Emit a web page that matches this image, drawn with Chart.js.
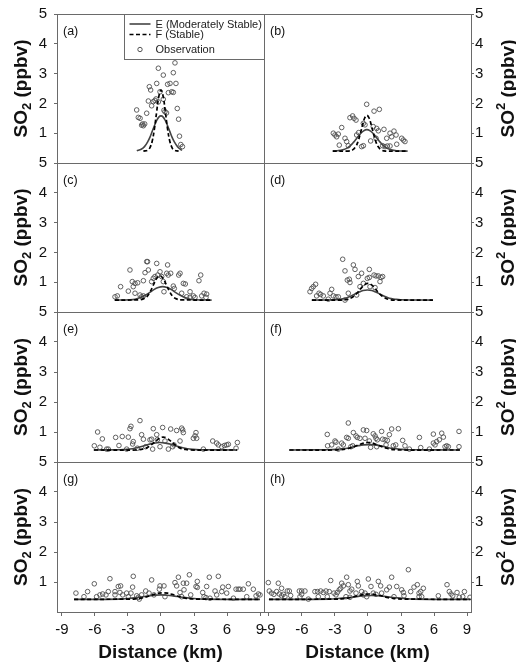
<!DOCTYPE html>
<html><head><meta charset="utf-8">
<script src="https://cdn.jsdelivr.net/npm/chart.js@4.4.0/dist/chart.umd.min.js"></script>
<style>
html,body{margin:0;padding:0;background:#fff;}
body{width:516px;height:667px;position:relative;overflow:hidden;}
canvas{position:absolute;}
</style>
</head><body>
<script>
// ---------------- data ----------------
const xTicks = [-9, -6, -3, 0, 3, 6, 9];
const yTicks = [0, 1, 2, 3, 4, 5];
const panelLabels = ['(a)', '(b)', '(c)', '(d)', '(e)', '(f)', '(g)', '(h)'];
const legendLabels = ['E (Moderately Stable)', 'F (Stable)', 'Observation'];
const xTitle = 'Distance (km)';

const obs_a = [[-2.21,1.78],[-2.06,1.53],[-1.9,1.50],[-1.76,1.27],[-1.67,1.31],[-1.6,1.25],[-1.48,1.31],[-1.3,1.67],[-1.15,2.08],[-1.06,2.56],[-0.94,2.45],[-0.85,1.92],[-0.7,2.06],[-0.55,2.10],[-0.45,2.15],[-0.39,2.67],[-0.24,3.18],[-0.24,2.05],[-0.09,2.39],[0.21,2.95],[0.21,2.14],[0.27,1.77],[0.36,1.72],[0.5,1.68],[0.6,2.64],[0.67,2.36],[0.82,2.67],[0.97,2.39],[1.12,3.03],[1.27,3.36],[1.36,2.67],[1.12,2.37],[1.48,1.83],[1.6,1.47],[1.68,0.9],[1.8,0.62],[1.95,0.55]];
const stableE_a = [[-2.2,0.41],[-1.8,0.46],[-1.5,0.55],[-1.2,0.72],[-1.0,0.87],[-0.8,1.06],[-0.6,1.25],[-0.4,1.42],[-0.2,1.54],[0,1.58],[0.2,1.54],[0.4,1.42],[0.6,1.25],[0.8,1.06],[1.0,0.87],[1.2,0.72],[1.5,0.55],[1.9,0.42]];
const stableF_a = [[-1.6,0.40],[-1.2,0.43],[-1.0,0.52],[-0.8,0.73],[-0.6,1.14],[-0.4,1.70],[-0.2,2.23],[0,2.45],[0.2,2.23],[0.4,1.70],[0.6,1.14],[0.8,0.73],[1.0,0.52],[1.2,0.43],[1.6,0.40]];

const obs_b = [[-3.15,1.0],[-3.0,0.94],[-2.85,0.88],[-2.7,0.97],[-2.61,0.6],[-2.39,1.19],[-2.09,0.83],[-1.94,0.72],[-1.79,0.58],[-1.64,1.52],[-1.4,1.58],[-1.27,1.5],[-1.09,1.44],[-1.03,0.94],[-0.85,1.02],[-0.58,0.55],[-0.42,0.58],[-0.42,1.33],[-0.27,1.28],[-0.12,1.97],[0.24,0.74],[0.48,1.22],[0.55,1.74],[0.73,0.83],[0.79,1.16],[0.94,1.08],[1.03,1.80],[1.33,0.58],[1.45,1.13],[1.55,0.55],[1.7,0.83],[1.76,0.57],[2.0,1.0],[2.0,0.57],[2.15,0.88],[2.36,1.07],[2.55,0.94],[2.61,0.63],[3.06,0.83],[3.21,0.77],[3.36,0.72]];
const stableE_b = [[-3.2,0.40],[-2.8,0.41],[-2.3,0.44],[-1.9,0.50],[-1.6,0.58],[-1.3,0.70],[-1.0,0.84],[-0.7,0.98],[-0.4,1.08],[-0.1,1.12],[0.2,1.08],[0.5,0.98],[0.8,0.84],[1.1,0.70],[1.4,0.58],[1.7,0.50],[2.1,0.44],[2.6,0.41],[3.6,0.40]];
const stableF_b = [[-3.2,0.40],[-1.8,0.40],[-1.4,0.44],[-1.1,0.56],[-0.9,0.73],[-0.7,0.98],[-0.5,1.27],[-0.3,1.51],[-0.1,1.60],[0.1,1.51],[0.3,1.27],[0.5,0.98],[0.7,0.73],[0.9,0.56],[1.2,0.44],[1.6,0.40],[3.6,0.40]];

const obs_c = [[-4.18,0.51],[-3.97,0.54],[-3.67,0.85],[-2.97,0.70],[-2.82,1.41],[-2.61,1.02],[-2.52,0.85],[-2.36,0.96],[-2.36,0.63],[-2.12,0.98],[-1.91,0.57],[-1.76,0.51],[-1.6,0.54],[-1.6,1.05],[-1.45,1.32],[-1.3,1.69],[-1.22,1.69],[-1.15,1.41],[-0.85,1.02],[-0.7,1.13],[-0.55,1.19],[-0.39,1.63],[-0.3,1.24],[-0.09,1.35],[0.06,1.19],[0.21,1.02],[0.27,0.68],[0.52,1.30],[0.6,1.58],[0.66,1.24],[0.88,1.30],[1.12,0.87],[1.21,0.79],[1.61,1.24],[1.73,1.30],[1.88,0.63],[2.03,0.96],[2.21,0.94],[2.33,0.51],[2.64,0.49],[2.64,0.68],[2.94,0.54],[3.09,0.49],[3.45,1.05],[3.61,1.24],[3.7,0.54],[3.91,0.63],[4.09,0.49],[4.15,0.60]];
const stableE_c = [[-4.2,0.40],[-2.85,0.41],[-2.35,0.43],[-1.85,0.49],[-1.45,0.56],[-1.05,0.65],[-0.65,0.75],[-0.25,0.82],[0.15,0.85],[0.55,0.82],[0.95,0.75],[1.35,0.65],[1.75,0.56],[2.15,0.49],[2.65,0.43],[3.15,0.41],[4.6,0.40]];
const stableF_c = [[-4.2,0.40],[-2.0,0.41],[-1.6,0.44],[-1.3,0.51],[-1.0,0.67],[-0.7,0.90],[-0.4,1.12],[-0.1,1.22],[0.2,1.12],[0.5,0.90],[0.8,0.67],[1.1,0.51],[1.4,0.44],[1.8,0.41],[4.6,0.40]];

const obs_d = [[-5.27,0.68],[-5.12,0.79],[-4.97,0.85],[-4.76,0.93],[-4.67,0.54],[-4.45,0.63],[-4.3,0.59],[-4.06,0.54],[-3.61,0.43],[-3.45,0.63],[-3.3,0.76],[-3.15,0.54],[-2.91,0.51],[-2.7,0.51],[-2.3,1.77],[-2.09,1.38],[-2.09,0.40],[-1.88,1.07],[-1.79,0.63],[-1.7,1.10],[-1.64,0.99],[-1.33,1.58],[-1.18,1.43],[-1.03,0.57],[-0.88,1.19],[-0.73,0.85],[-0.58,1.30],[-0.42,0.96],[-0.06,1.13],[0.12,1.16],[0.12,1.43],[0.18,0.85],[0.55,1.24],[0.64,0.82],[0.73,1.21],[0.94,1.21],[1.09,1.02],[1.18,1.16],[1.33,1.19]];
const stableE_d = [[-5.1,0.40],[-3.05,0.41],[-2.55,0.43],[-2.05,0.46],[-1.65,0.52],[-1.25,0.59],[-0.85,0.66],[-0.45,0.72],[-0.05,0.74],[0.35,0.72],[0.75,0.66],[1.15,0.59],[1.55,0.52],[1.95,0.46],[2.45,0.43],[2.95,0.41],[5.9,0.40]];
const stableF_d = [[-5.1,0.40],[-2.4,0.40],[-1.9,0.42],[-1.5,0.48],[-1.2,0.56],[-0.9,0.67],[-0.6,0.81],[-0.3,0.92],[0,0.96],[0.3,0.92],[0.6,0.81],[0.9,0.67],[1.2,0.56],[1.5,0.48],[1.9,0.42],[2.4,0.40],[5.9,0.40]];

const obs_e = [[-6.06,0.54],[-5.76,1.0],[-5.55,0.49],[-5.33,0.77],[-4.94,0.43],[-4.79,0.43],[-4.12,0.82],[-3.82,0.55],[-3.52,0.85],[-3.12,0.43],[-2.97,0.83],[-2.82,1.11],[-2.73,1.19],[-2.58,0.60],[-2.52,0.68],[-2.15,0.46],[-1.91,1.38],[-1.76,0.91],[-1.6,0.76],[-1.39,0.51],[-1.0,0.74],[-0.85,0.76],[-0.76,0.43],[-0.7,1.11],[-0.39,0.91],[-0.33,0.74],[-0.09,0.51],[0.15,1.15],[0.36,0.70],[0.67,0.43],[0.88,1.10],[1.06,0.51],[1.18,0.57],[1.42,1.05],[1.73,0.70],[1.88,1.13],[1.97,1.07],[2.03,0.98],[2.94,0.79],[3.09,0.87],[3.18,0.98],[3.24,0.79],[3.85,0.43],[4.7,0.70],[5.06,0.63],[5.21,0.57],[5.52,0.51],[5.76,0.55],[5.97,0.57],[6.12,0.59],[6.82,0.46],[6.94,0.65]];
const stableE_e = [[-6.1,0.40],[-3.7,0.41],[-3.1,0.42],[-2.6,0.44],[-2.1,0.48],[-1.6,0.53],[-1.1,0.59],[-0.6,0.63],[-0.1,0.65],[0.4,0.63],[0.9,0.59],[1.4,0.53],[1.9,0.48],[2.4,0.44],[2.9,0.42],[3.5,0.41],[6.9,0.40]];
const stableF_e = [[-6.1,0.40],[-2.2,0.40],[-1.7,0.43],[-1.3,0.47],[-1.0,0.54],[-0.7,0.63],[-0.4,0.72],[-0.1,0.80],[0.2,0.83],[0.5,0.80],[0.8,0.72],[1.1,0.63],[1.4,0.54],[1.7,0.47],[2.1,0.43],[2.6,0.40],[6.9,0.40]];

const obs_f = [[-3.7,0.92],[-3.67,0.54],[-3.3,0.57],[-3.0,0.70],[-2.91,0.66],[-2.7,0.43],[-2.39,0.63],[-2.24,0.57],[-1.94,0.82],[-1.79,0.79],[-1.79,1.30],[-1.55,0.51],[-1.39,0.54],[-1.33,0.98],[-1.09,0.87],[-0.97,0.82],[-0.73,0.79],[-0.42,1.07],[-0.27,0.79],[-0.12,1.05],[0.12,0.70],[0.24,0.49],[0.48,0.94],[0.64,0.87],[0.73,0.79],[0.79,0.51],[0.85,0.74],[1.24,1.02],[1.33,0.76],[1.55,0.74],[1.64,0.57],[1.76,0.72],[1.94,0.91],[2.15,1.10],[2.3,0.54],[2.52,0.57],[2.76,1.11],[3.15,0.72],[3.36,0.54],[3.76,0.43],[4.67,0.82],[4.79,0.48],[5.58,0.43],[5.94,0.93],[5.94,0.63],[6.09,0.57],[6.24,0.68],[6.48,0.74],[6.7,0.96],[6.85,0.83],[7.0,0.51],[7.15,0.54],[7.3,0.51],[8.27,1.02],[8.27,0.51]];
const stableE_f = [[-7.15,0.40],[-3.6,0.41],[-2.9,0.42],[-2.4,0.44],[-1.9,0.46],[-1.4,0.50],[-0.9,0.54],[-0.4,0.57],[0.1,0.58],[0.6,0.57],[1.1,0.54],[1.6,0.50],[2.1,0.46],[2.6,0.44],[3.1,0.42],[3.8,0.41],[8.35,0.40]];
const stableF_f = [[-7.15,0.40],[-3.0,0.40],[-2.5,0.41],[-2.0,0.43],[-1.6,0.47],[-1.2,0.52],[-0.8,0.58],[-0.4,0.63],[0,0.65],[0.4,0.63],[0.8,0.58],[1.2,0.52],[1.6,0.47],[2.0,0.43],[2.5,0.41],[3.0,0.40],[8.35,0.40]];

const obs_g = [[-7.73,0.63],[-7.0,0.51],[-6.67,0.68],[-6.06,0.94],[-5.85,0.51],[-5.55,0.57],[-5.3,0.60],[-5.0,0.57],[-4.79,0.68],[-4.64,1.11],[-4.18,0.57],[-4.18,0.68],[-3.88,0.85],[-3.73,0.65],[-3.67,0.87],[-3.48,0.57],[-3.12,0.63],[-2.97,0.51],[-2.73,0.63],[-2.58,0.83],[-2.52,1.19],[-2.21,0.54],[-2.06,0.49],[-1.97,0.43],[-1.76,0.57],[-1.39,0.70],[-1.09,0.63],[-0.85,1.07],[-0.64,0.57],[-0.15,0.76],[-0.09,0.87],[0.27,0.87],[0.36,0.51],[1.27,0.98],[1.42,0.87],[1.58,1.16],[1.73,0.65],[1.88,0.51],[2.03,0.96],[2.09,0.74],[2.33,0.96],[2.58,1.24],[2.7,0.57],[3.18,0.85],[3.3,0.82],[3.3,1.02],[3.79,0.65],[3.91,0.51],[4.09,0.48],[4.15,0.85],[4.39,1.16],[4.45,0.46],[4.91,0.70],[5.06,0.57],[5.21,1.19],[5.52,0.68],[5.61,0.83],[5.97,0.63],[6.12,0.85],[6.58,0.46],[6.82,0.76],[7.03,0.76],[7.18,0.76],[7.48,0.76],[7.79,0.51],[7.94,0.94],[8.39,0.76],[8.64,0.54],[8.85,0.60],[9.0,0.57]];
const stableE_g = [[-7.9,0.42],[-3.8,0.43],[-3.0,0.45],[-2.4,0.47],[-1.8,0.50],[-1.2,0.53],[-0.6,0.56],[0,0.57],[0.6,0.56],[1.2,0.53],[1.8,0.50],[2.4,0.47],[3.0,0.45],[3.8,0.43],[9.0,0.42]];
const stableF_g = [[-7.9,0.42],[-2.8,0.43],[-2.3,0.44],[-1.8,0.46],[-1.4,0.50],[-1.0,0.54],[-0.6,0.59],[-0.2,0.63],[0.2,0.64],[0.6,0.63],[1.0,0.59],[1.4,0.54],[1.8,0.50],[2.2,0.46],[2.7,0.44],[3.2,0.43],[9.0,0.42]];

const obs_h = [[-9.06,0.98],[-8.97,0.70],[-8.76,0.63],[-8.55,0.59],[-8.3,0.68],[-8.15,0.96],[-8.06,0.60],[-7.85,0.54],[-7.85,0.79],[-7.7,0.59],[-7.55,0.51],[-7.33,0.70],[-7.15,0.70],[-7.03,0.55],[-6.24,0.70],[-6.18,0.51],[-6.03,0.70],[-6.03,0.59],[-5.73,0.70],[-5.42,0.43],[-4.82,0.68],[-4.58,0.68],[-4.52,0.51],[-4.3,0.70],[-4.06,0.65],[-3.82,0.70],[-3.7,0.51],[-3.52,0.68],[-3.39,1.05],[-3.09,0.63],[-2.91,0.57],[-2.79,0.65],[-2.61,0.74],[-2.48,0.79],[-2.39,0.96],[-2.24,0.87],[-2.0,0.51],[-1.94,1.16],[-1.79,0.91],[-1.64,0.70],[-1.64,0.49],[-1.48,0.76],[-1.09,0.63],[-0.97,1.02],[-0.88,0.87],[-0.58,0.68],[-0.42,0.57],[-0.27,0.63],[-0.12,0.51],[0.03,1.10],[0.27,0.85],[0.48,0.63],[0.73,0.59],[0.94,1.02],[1.15,0.87],[1.24,0.63],[1.7,0.74],[1.94,0.83],[2.15,1.16],[2.36,0.51],[2.61,0.85],[3.06,0.74],[3.21,0.65],[3.27,0.54],[3.67,1.41],[3.88,0.68],[4.18,0.83],[4.48,0.91],[4.64,0.63],[4.64,0.51],[4.79,0.68],[4.88,0.51],[5.03,0.79],[6.39,0.54],[7.18,0.91],[7.39,0.68],[7.55,0.60],[7.7,0.54],[8.09,0.65],[8.3,0.49],[8.61,0.51],[8.76,0.68],[9.27,0.49]];
const stableE_h = [[-9.0,0.42],[-3.5,0.43],[-2.7,0.45],[-2.1,0.47],[-1.5,0.49],[-0.9,0.52],[-0.3,0.54],[0.3,0.55],[0.9,0.54],[1.5,0.52],[2.1,0.49],[2.7,0.47],[3.3,0.45],[4.1,0.43],[9.3,0.42]];
const stableF_h = [[-9.0,0.42],[-3.0,0.43],[-2.4,0.44],[-1.9,0.46],[-1.5,0.49],[-1.1,0.53],[-0.7,0.56],[-0.3,0.59],[0.1,0.60],[0.5,0.59],[0.9,0.56],[1.3,0.53],[1.7,0.49],[2.1,0.46],[2.6,0.44],[3.2,0.43],[9.3,0.42]];

// ---------------- layout / style ----------------
const FONT = '"Liberation Sans", Arial, Helvetica, sans-serif';
const FRAME = '#6a6a6a';
const panelTops = [14, 163, 312, 462];
const panelBottoms = [163, 312, 462, 612];
const X_MIN = -9.45, X_MAX = 9.36;
const PAD_V = 18;

const panels = [
  {obs: obs_a, e: stableE_a, f: stableF_a},
  {obs: obs_b, e: stableE_b, f: stableF_b},
  {obs: obs_c, e: stableE_c, f: stableF_c},
  {obs: obs_d, e: stableE_d, f: stableF_d},
  {obs: obs_e, e: stableE_e, f: stableF_e},
  {obs: obs_f, e: stableE_f, f: stableF_f},
  {obs: obs_g, e: stableE_g, f: stableF_g},
  {obs: obs_h, e: stableE_h, f: stableF_h}
];

const toXY = arr => arr.map(p => ({x: p[0], y: p[1]}));

function drawYTitle(ctx, baseX, cy, raisedSub) {
  ctx.save();
  ctx.translate(baseX, cy);
  ctx.rotate(-Math.PI / 2);
  const big = 'bold 19px ' + FONT, small = 'bold 13px ' + FONT;
  ctx.font = big;
  const w1 = ctx.measureText('SO').width;
  const w3 = ctx.measureText(' (ppbv)').width;
  ctx.font = small;
  const w2 = ctx.measureText('2').width;
  let x = -(w1 + w2 + w3) / 2;
  ctx.fillStyle = '#111';
  ctx.textAlign = 'left';
  ctx.textBaseline = 'alphabetic';
  ctx.font = big; ctx.fillText('SO', x, 0); x += w1;
  ctx.font = small; ctx.fillText('2', x, raisedSub ? -9 : 4); x += w2;
  ctx.font = big; ctx.fillText(' (ppbv)', x, 0);
  ctx.restore();
}

const decor = {
  id: 'decor',
  afterDatasetsDraw(chart) {
    const o = chart.options.plugins.decor;
    const a = chart.chartArea;
    const ctx = chart.ctx;
    ctx.save();
    ctx.strokeStyle = FRAME;
    ctx.lineWidth = 1;
    ctx.strokeRect(Math.round(a.left) + 0.5, Math.round(a.top) + 0.5, Math.round(a.right - a.left), Math.round(a.bottom - a.top));
    ctx.fillStyle = '#111';
    ctx.font = '12.5px ' + FONT;
    ctx.textAlign = 'left';
    ctx.textBaseline = 'middle';
    ctx.fillText(o.label, a.left + 6, a.top + 18);
    drawYTitle(ctx, o.titleX, (a.top + a.bottom) / 2, o.col === 1);
    if (o.legend) {
      const bx = Math.round(a.right) - 140 + 0.5, by = Math.round(a.top) + 0.5;
      ctx.fillStyle = '#fff';
      ctx.fillRect(bx, by, 140, 45);
      ctx.strokeStyle = FRAME;
      ctx.strokeRect(bx, by, 140, 45);
      const rows = [a.top + 10, a.top + 20.5, a.top + 35.5];
      const lx1 = bx + 5, lx2 = bx + 26, tx = bx + 31;
      ctx.lineWidth = 1.6;
      ctx.strokeStyle = '#444';
      ctx.setLineDash([]);
      ctx.beginPath(); ctx.moveTo(lx1, rows[0]); ctx.lineTo(lx2, rows[0]); ctx.stroke();
      ctx.strokeStyle = '#000';
      ctx.setLineDash([4, 2.5]);
      ctx.beginPath(); ctx.moveTo(lx1, rows[1]); ctx.lineTo(lx2, rows[1]); ctx.stroke();
      ctx.setLineDash([]);
      ctx.lineWidth = 1;
      ctx.strokeStyle = '#555';
      ctx.beginPath(); ctx.arc((lx1 + lx2) / 2, rows[2], 2.2, 0, Math.PI * 2); ctx.stroke();
      ctx.fillStyle = '#222';
      ctx.font = '11px ' + FONT;
      ctx.textBaseline = 'middle';
      legendLabels.forEach((t, i) => ctx.fillText(t, tx, rows[i] + 0.5));
    }
    ctx.restore();
  }
};

panels.forEach((p, i) => {
  const col = i % 2, row = Math.floor(i / 2);
  const top = panelTops[row], bottom = panelBottoms[row];
  const isBottom = row === 3;
  const canvasTop = top - PAD_V;
  const canvasLeft = col === 0 ? 0 : 250;
  const canvasWidth = col === 0 ? 272 : 266;
  const canvasHeight = isBottom ? (667 - canvasTop) : (bottom + PAD_V - canvasTop);
  const cv = document.createElement('canvas');
  cv.width = canvasWidth; cv.height = canvasHeight;
  cv.style.left = canvasLeft + 'px'; cv.style.top = canvasTop + 'px';
  cv.style.width = canvasWidth + 'px'; cv.style.height = canvasHeight + 'px';
  document.body.appendChild(cv);

  new Chart(cv.getContext('2d'), {
    type: 'scatter',
    data: {
      datasets: [
        {label: legendLabels[2], data: toXY(p.obs), showLine: false, pointRadius: 2.3, pointBorderWidth: 0.9,
          pointBorderColor: '#505050', pointBackgroundColor: 'rgba(255,255,255,0)', pointStyle: 'circle', order: 3},
        {label: legendLabels[1], data: toXY(p.f), showLine: true, pointRadius: 0, borderColor: '#000', borderWidth: 1.7,
          borderDash: [4, 2.5], tension: 0.4, fill: false, order: 1},
        {label: legendLabels[0], data: toXY(p.e), showLine: true, pointRadius: 0, borderColor: '#444', borderWidth: 1.6,
          tension: 0.4, fill: false, order: 2}
      ]
    },
    options: {
      responsive: false,
      animation: false,
      devicePixelRatio: 1,
      layout: {padding: {top: PAD_V, bottom: isBottom ? 0 : PAD_V, left: col === 0 ? 0 : 14, right: col === 0 ? 8 : 0}},
      plugins: {
        legend: {display: false},
        tooltip: {enabled: false},
        decor: {label: panelLabels[i], col: col, legend: i === 0, titleX: col === 0 ? 27 : 264}
      },
      scales: {
        x: {
          type: 'linear', min: X_MIN, max: X_MAX,
          display: isBottom,
          afterBuildTicks: s => { s.ticks = xTicks.map(v => ({value: v})); },
          afterFit: s => { s.height = isBottom ? 55 : 0; },
          grid: {display: true, drawOnChartArea: false, drawTicks: true, tickLength: 4, color: FRAME},
          border: {display: false},
          ticks: {font: {family: FONT, size: 15}, color: '#111', padding: 5, maxRotation: 0, autoSkip: false,
            callback: v => String(v)},
          title: {display: true, text: xTitle, font: {family: FONT, size: 19, weight: 'bold'}, color: '#111',
            padding: {top: 0, bottom: 3}}
        },
        y: {
          type: 'linear', min: 0, max: 5,
          position: col === 0 ? 'left' : 'right',
          afterBuildTicks: s => { s.ticks = yTicks.map(v => ({value: v})); },
          afterFit: s => { s.width = col === 0 ? 57 : 45; },
          grid: {display: true, drawOnChartArea: false, drawTicks: true, tickLength: 3, color: FRAME},
          border: {display: false},
          ticks: {font: {family: FONT, size: 15}, color: '#111', padding: col === 0 ? 7 : 1,
            callback: v => (v === 0 ? null : String(v))}
        }
      }
    },
    plugins: [decor]
  });
});
</script>
</body></html>
